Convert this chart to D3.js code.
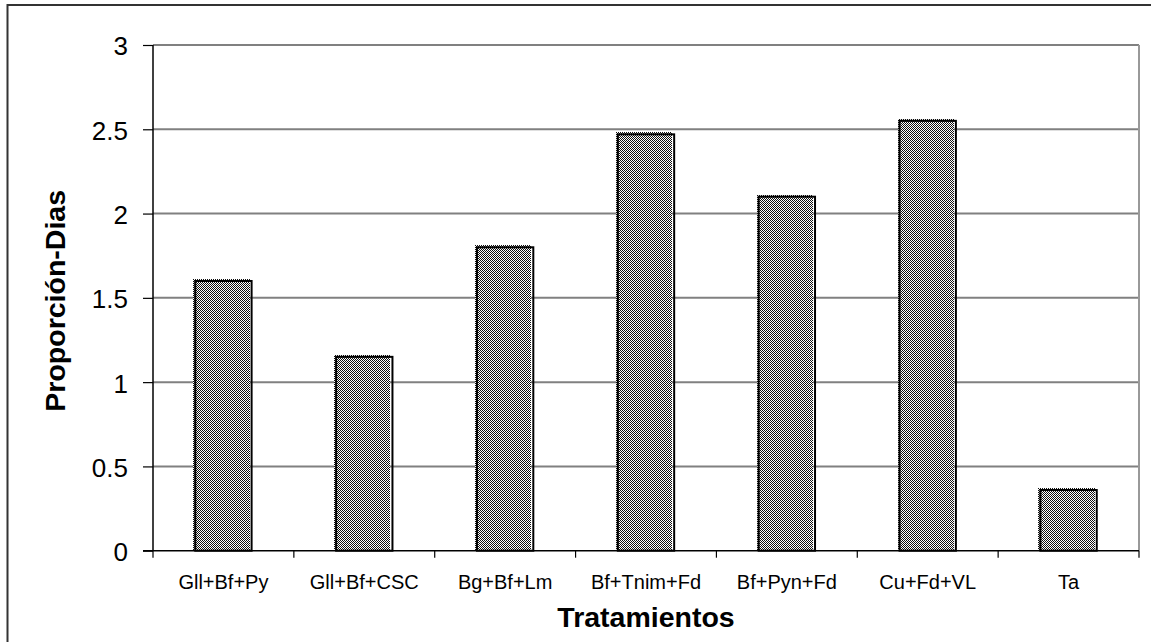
<!DOCTYPE html>
<html>
<head>
<meta charset="utf-8">
<script src="https://cdn.jsdelivr.net/npm/d3@7"></script>
<style>
  html, body { margin: 0; padding: 0; background: #fff; }
  svg { display: block; }
  text { font-family: "Liberation Sans", Arial, sans-serif; fill: #000; }
</style>
</head>
<body>
<script>
const categories = ["Gll+Bf+Py", "Gll+Bf+CSC", "Bg+Bf+Lm", "Bf+Tnim+Fd", "Bf+Pyn+Fd", "Cu+Fd+VL", "Ta"];
const values = [1.6, 1.15, 1.8, 2.47, 2.1, 2.55, 0.36];
const yTicks = [0, 0.5, 1, 1.5, 2, 2.5, 3];
const yTitle = "Proporción-Dias";
const xTitle = "Tratamientos";

const W = 1151, H = 642;
const pLeft = 153, pRight = 1139, pTop = 45, pBottom = 550.7;

const svg = d3.select("body").append("svg").attr("width", W).attr("height", H);

// pattern
const defs = svg.append("defs");
const pat = defs.append("pattern").attr("id", "checker").attr("patternUnits", "userSpaceOnUse")
  .attr("width", 2).attr("height", 2);
pat.append("rect").attr("width", 2).attr("height", 2).attr("fill", "#fff");
pat.append("rect").attr("x", 0).attr("y", 0).attr("width", 1).attr("height", 1).attr("fill", "#111");
pat.append("rect").attr("x", 1).attr("y", 1).attr("width", 1).attr("height", 1).attr("fill", "#111");

// outer frame (only top/left visible)
svg.append("rect").attr("x", 7.5).attr("y", 5).attr("width", W + 20).attr("height", H + 20)
  .attr("fill", "none").attr("stroke", "#333").attr("stroke-width", 2);

const x = d3.scaleBand().domain(categories).range([pLeft, pRight]).paddingInner(0.6).paddingOuter(0.3);
const y = d3.scaleLinear().domain([0, 3]).range([pBottom, pTop]);

// gridlines
svg.append("g").selectAll("line").data(yTicks.filter(d => d > 0)).join("line")
  .attr("x1", pLeft).attr("x2", pRight)
  .attr("y1", d => y(d)).attr("y2", d => y(d))
  .attr("stroke", "#808080").attr("stroke-width", 2);
// right border
svg.append("line").attr("x1", pRight).attr("x2", pRight).attr("y1", pTop).attr("y2", pBottom)
  .attr("stroke", "#999").attr("stroke-width", 2);

// bars
const data = categories.map((c, i) => ({ c, v: values[i] }));
const bars = svg.append("g");
bars.selectAll("rect.fill").data(data).join("rect").attr("class", "fill")
  .attr("x", d => x(d.c) - 2).attr("y", d => y(d.v) - 2)
  .attr("width", x.bandwidth()).attr("height", d => pBottom - y(d.v) + 2)
  .attr("fill", "url(#checker)").attr("shape-rendering", "crispEdges");
bars.selectAll("rect.edge").data(data).join("rect").attr("class", "edge")
  .attr("x", d => x(d.c)).attr("y", d => y(d.v))
  .attr("width", x.bandwidth()).attr("height", d => pBottom - y(d.v))
  .attr("fill", "none").attr("stroke", "#000").attr("stroke-width", 2);

// y axis
const yAxis = svg.append("g").attr("transform", `translate(${pLeft},0)`)
  .call(d3.axisLeft(y).tickValues(yTicks).tickSize(10).tickPadding(15).tickFormat(d => String(d)));
yAxis.select(".domain").attr("stroke", "#000").attr("stroke-width", 1.5).attr("d", `M0,${pTop}V${pBottom}`);
yAxis.selectAll(".tick line").attr("stroke", "#000").attr("stroke-width", 1.2);
yAxis.selectAll(".tick text").attr("font-size", 26).attr("font-family", "Liberation Sans, Arial, sans-serif")
  .attr("dy", "0.38em");

// x axis
const xAxis = svg.append("g").attr("transform", `translate(0,${pBottom})`);
xAxis.append("line").attr("x1", pLeft - 10).attr("x2", pRight).attr("y1", 0).attr("y2", 0)
  .attr("stroke", "#000").attr("stroke-width", 1.5);
const boundaries = d3.range(categories.length + 1).map(i => pLeft + i * x.step());
xAxis.selectAll("line.tk").data(boundaries).join("line").attr("class", "tk")
  .attr("x1", d => d).attr("x2", d => d).attr("y1", 0).attr("y2", 7)
  .attr("stroke", "#000").attr("stroke-width", 1.2);
xAxis.selectAll("text").data(categories).join("text")
  .attr("x", d => x(d) + x.bandwidth() / 2).attr("y", 38.5)
  .attr("text-anchor", "middle").attr("font-size", 20).text(d => d);

// titles
svg.append("text").attr("x", (pLeft + pRight) / 2).attr("y", 627)
  .attr("text-anchor", "middle").attr("font-size", 28.5).attr("font-weight", "bold").text(xTitle);
svg.append("text").attr("transform", `translate(65,${(pTop + pBottom) / 2 + 3}) rotate(-90)`)
  .attr("text-anchor", "middle").attr("font-size", 28.5).attr("font-weight", "bold").text(yTitle);
</script>
</body>
</html>
